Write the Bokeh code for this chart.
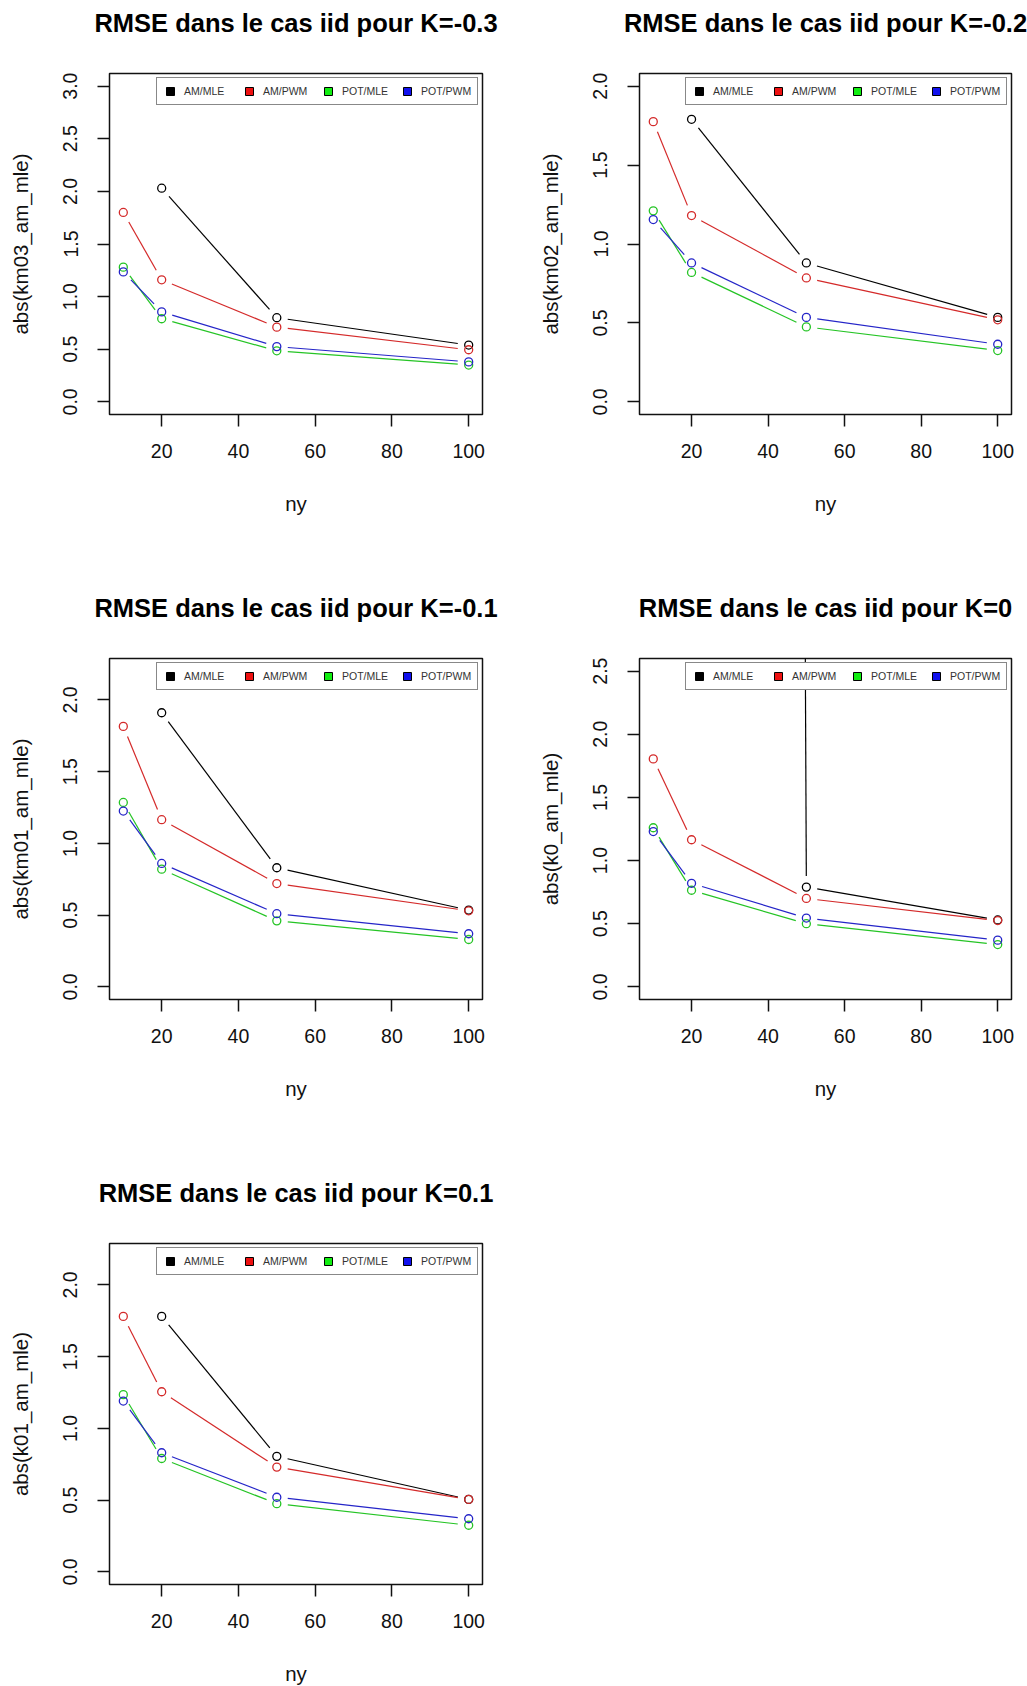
import math
from bokeh.plotting import figure
from bokeh.layouts import column, row
from bokeh.models import Range1d, FixedTicker, PrintfTickFormatter, Legend, LegendItem, Title
from bokeh.embed import file_html
from bokeh.resources import INLINE

NaN = float("nan")

# ---------------- data ----------------
ny = [10, 20, 50, 100]
series_names = ["AM/MLE", "AM/PWM", "POT/MLE", "POT/PWM"]

titles = [
    "RMSE dans le cas iid pour K=-0.3",
    "RMSE dans le cas iid pour K=-0.2",
    "RMSE dans le cas iid pour K=-0.1",
    "RMSE dans le cas iid pour K=0",
    "RMSE dans le cas iid pour K=0.1",
]
ylabels = [
    "abs(km03_am_mle)",
    "abs(km02_am_mle)",
    "abs(km01_am_mle)",
    "abs(k0_am_mle)",
    "abs(k01_am_mle)",
]
ylims = [3.0, 2.0, 2.2, 2.5, 2.2]
yticks_list = [
    [0.0, 0.5, 1.0, 1.5, 2.0, 2.5, 3.0],
    [0.0, 0.5, 1.0, 1.5, 2.0],
    [0.0, 0.5, 1.0, 1.5, 2.0],
    [0.0, 0.5, 1.0, 1.5, 2.0, 2.5],
    [0.0, 0.5, 1.0, 1.5, 2.0],
]
xticks = [20, 40, 60, 80, 100]

# K = -0.3
km03_am_mle = [NaN, 2.03, 0.80, 0.54]
km03_am_pwm = [1.80, 1.16, 0.71, 0.495]
km03_pot_mle = [1.28, 0.79, 0.485, 0.35]
km03_pot_pwm = [1.235, 0.855, 0.525, 0.38]
# K = -0.2
km02_am_mle = [NaN, 1.79, 0.88, 0.535]
km02_am_pwm = [1.775, 1.18, 0.785, 0.52]
km02_pot_mle = [1.21, 0.82, 0.475, 0.325]
km02_pot_pwm = [1.155, 0.88, 0.535, 0.365]
# K = -0.1
km01_am_mle = [NaN, 1.91, 0.83, 0.535]
km01_am_pwm = [1.815, 1.165, 0.72, 0.53]
km01_pot_mle = [1.285, 0.82, 0.46, 0.33]
km01_pot_pwm = [1.225, 0.86, 0.51, 0.37]
# K = 0
k0_am_mle = [NaN, 200.0, 0.79, 0.53]
k0_am_pwm = [1.805, 1.165, 0.70, 0.525]
k0_pot_mle = [1.26, 0.765, 0.50, 0.335]
k0_pot_pwm = [1.23, 0.82, 0.545, 0.37]
# K = 0.1
k01_am_mle = [NaN, 1.78, 0.805, 0.505]
k01_am_pwm = [1.78, 1.255, 0.73, 0.505]
k01_pot_mle = [1.235, 0.79, 0.475, 0.325]
k01_pot_pwm = [1.19, 0.83, 0.52, 0.37]

panel_data = [
    [km03_am_mle, km03_am_pwm, km03_pot_mle, km03_pot_pwm],
    [km02_am_mle, km02_am_pwm, km02_pot_mle, km02_pot_pwm],
    [km01_am_mle, km01_am_pwm, km01_pot_mle, km01_pot_pwm],
    [k0_am_mle, k0_am_pwm, k0_pot_mle, k0_pot_pwm],
    [k01_am_mle, k01_am_pwm, k01_pot_mle, k01_pot_pwm],
]

# ---------------- styles ----------------
line_colors = ["#000000", "#D42A2A", "#25C425", "#2525C8"]
legend_fills = ["#000000", "#EE1111", "#11EE11", "#1111EE"]
FONT = "Liberation Sans"
GAP_PX = 11.0  # R type="b" gap around each point, in screen pixels


def gapped_segments(xs, ys, xr, yr, fw, fh, gap):
    """Segments between consecutive points, shortened by `gap` screen px at each end
    (like R's type='b')."""
    sx = fw / (xr[1] - xr[0])
    sy = fh / (yr[1] - yr[0])
    x0s, y0s, x1s, y1s = [], [], [], []
    for a in range(len(xs) - 1):
        xa, ya, xb, yb = xs[a], ys[a], xs[a + 1], ys[a + 1]
        if math.isnan(ya) or math.isnan(yb):
            continue
        d = math.hypot((xb - xa) * sx, (yb - ya) * sy)
        if d <= 2 * gap:
            continue
        f = gap / d
        x0s.append(xa + (xb - xa) * f)
        y0s.append(ya + (yb - ya) * f)
        x1s.append(xb - (xb - xa) * f)
        y1s.append(yb - (yb - ya) * f)
    return x0s, y0s, x1s, y1s


def make_panel(i, left, right, bottom):
    ymax = ylims[i]
    lo, hi = min(ny), max(ny)
    xpad = 0.04 * (hi - lo)
    xr = (lo - xpad, hi + xpad)
    yr = (-0.04 * ymax, 1.04 * ymax)
    fw = 373 if left == 109 else 372
    fh = 341
    p = figure(
        frame_width=fw,
        frame_height=fh,
        min_border_left=left,
        min_border_right=right,
        min_border_top=73,
        min_border_bottom=bottom,
        x_range=Range1d(*xr),
        y_range=Range1d(*yr),
        output_backend="svg",
        toolbar_location=None,
        title=None,
    )
    # thin spacer between the plot box and the title (closest to the frame)
    p.add_layout(Title(text=" ", text_font_size="1px", standoff=27), "above")
    # main title
    p.add_layout(Title(
        text=titles[i], align="center", standoff=13,
        text_font=FONT, text_font_size="25.5px", text_font_style="bold",
        text_color="#000000",
    ), "above")

    p.xgrid.visible = False
    p.ygrid.visible = False
    p.outline_line_color = "#111111"
    p.outline_line_width = 1.5
    p.background_fill_color = "white"
    p.border_fill_color = "white"

    for ax in (p.xaxis[0], p.yaxis[0]):
        ax.axis_line_color = None
        ax.major_tick_in = 0
        ax.major_tick_out = 12
        ax.major_tick_line_color = "#111111"
        ax.major_tick_line_width = 1.5
        ax.minor_tick_line_color = None
        ax.major_label_text_font = FONT
        ax.major_label_text_font_size = "19.5px"
        ax.major_label_text_color = "#111111"
        ax.axis_label_text_font = FONT
        ax.axis_label_text_font_size = "20.5px"
        ax.axis_label_text_font_style = "normal"
        ax.axis_label_text_color = "#111111"

    p.xaxis.ticker = FixedTicker(ticks=xticks)
    p.xaxis.major_label_standoff = 17
    p.xaxis.axis_label = "ny"
    p.xaxis.axis_label_standoff = 31

    p.yaxis.ticker = FixedTicker(ticks=yticks_list[i])
    p.yaxis.formatter = PrintfTickFormatter(format="%.1f")
    p.yaxis.major_label_orientation = "vertical"
    p.yaxis.major_label_standoff = 20
    p.yaxis.axis_label = ylabels[i]
    p.yaxis.axis_label_standoff = 29

    series = panel_data[i]
    for vals, col in zip(series, line_colors):
        x0, y0, x1, y1 = gapped_segments(ny, vals, xr, yr, fw, fh, GAP_PX)
        p.segment(x0=x0, y0=y0, x1=x1, y1=y1, line_color=col, line_width=1.2)
    for vals, col in zip(series, line_colors):
        p.scatter(ny, vals, marker="circle", size=8, fill_color=None,
                  line_color=col, line_width=1.3)

    items = []
    for name, fc in zip(series_names, legend_fills):
        r = p.scatter(x=[NaN], y=[NaN], marker="square", size=8, fill_color=fc,
                      line_color="#000000", line_width=1)
        items.append(LegendItem(label=name, renderers=[r]))
    leg = Legend(
        items=items,
        orientation="horizontal",
        location="top_right",
        glyph_width=20,
        glyph_height=20,
        label_standoff=4,
        label_width=53,
        label_height=20,
        spacing=2,
        padding=3,
        margin=4,
        border_line_color="#111111",
        border_line_width=1.5,
        background_fill_color="white",
        background_fill_alpha=1.0,
        label_text_font=FONT,
        label_text_font_size="10.5px",
        label_text_color="#333333",
    )
    p.add_layout(leg)
    return p


p1 = make_panel(0, 109, 31, 171)
p2 = make_panel(1, 126, 16, 171)
p3 = make_panel(2, 109, 31, 171)
p4 = make_panel(3, 126, 16, 171)
p5 = make_panel(4, 109, 31, 102)

layout = column(row(p1, p2), row(p3, p4), row(p5))

open("out.html", "w").write(file_html(layout, INLINE))
